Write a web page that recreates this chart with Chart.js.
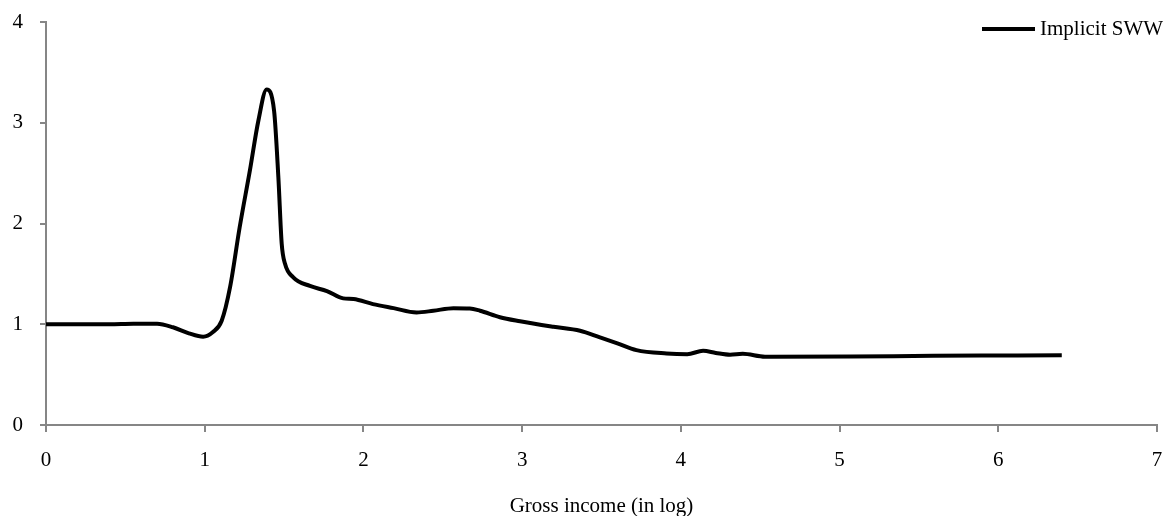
<!DOCTYPE html>
<html>
<head>
<meta charset="utf-8">
<script src="https://cdn.jsdelivr.net/npm/chart.js@4"></script>
<style>
  html, body { margin: 0; padding: 0; background: #fff; }
  #wrap { width: 1169px; height: 516px; }
</style>
</head>
<body>
<div id="wrap"><canvas id="swwChart"></canvas></div>
<script>
// values
const seriesLabel = 'Implicit SWW';
const logIncome = [0, 0.2, 0.4, 0.55, 0.7, 0.8, 0.9, 0.99, 1.05, 1.107, 1.16, 1.22, 1.285, 1.338, 1.39, 1.437, 1.464, 1.485, 1.506, 1.558, 1.663, 1.77, 1.873, 1.937, 2.06, 2.19, 2.335, 2.44, 2.567, 2.67, 2.735, 2.86, 2.987, 3.197, 3.365, 3.49, 3.6, 3.72, 3.91, 4.04, 4.14, 4.22, 4.31, 4.39, 4.53, 5.07, 5.59, 6.0, 6.4];
const sww = [1.0, 1.0, 1.0, 1.005, 1.005, 0.97, 0.91, 0.876, 0.92, 1.035, 1.37, 1.96, 2.53, 3.02, 3.33, 3.12, 2.46, 1.8, 1.6, 1.466, 1.38, 1.33, 1.257, 1.25, 1.2, 1.16, 1.117, 1.134, 1.16, 1.157, 1.134, 1.07, 1.03, 0.975, 0.935, 0.869, 0.81, 0.743, 0.71, 0.703, 0.736, 0.715, 0.697, 0.706, 0.677, 0.68, 0.687, 0.69, 0.693];
const xTicks = [0, 1, 2, 3, 4, 5, 6, 7];
const yTicks = [0, 1, 2, 3, 4];

const axisGrey = '#868686';
const fontFamily = '"Liberation Serif", "DejaVu Serif", serif';

const points = logIncome.map((x, i) => ({ x: x, y: sww[i] }));

// legend in the top right corner, drawn over the plot area
const cornerLegend = {
  id: 'cornerLegend',
  afterDraw(chart) {
    const ctx = chart.ctx;
    const ds = chart.data.datasets[0];
    ctx.save();
    ctx.strokeStyle = ds.borderColor;
    ctx.lineWidth = ds.borderWidth;
    ctx.beginPath();
    ctx.moveTo(982, 29);
    ctx.lineTo(1035, 29);
    ctx.stroke();
    ctx.fillStyle = '#000';
    ctx.font = '21px ' + fontFamily;
    ctx.textBaseline = 'middle';
    ctx.textAlign = 'left';
    ctx.fillText(ds.label, 1040, 29);
    ctx.restore();
  }
};

new Chart(document.getElementById('swwChart'), {
  type: 'line',
  data: {
    datasets: [{
      label: seriesLabel,
      data: points,
      borderColor: '#000',
      borderWidth: 4,
      pointRadius: 0,
      fill: false,
      cubicInterpolationMode: 'monotone'
    }]
  },
  options: {
    responsive: true,
    maintainAspectRatio: false,
    animation: false,
    layout: { padding: { top: 22, right: 12, left: 0, bottom: 0 } },
    plugins: {
      legend: { display: false },
      tooltip: { enabled: false }
    },
    scales: {
      x: {
        type: 'linear',
        min: 0,
        max: 7,
        afterBuildTicks: axis => { axis.ticks = xTicks.map(v => ({ value: v })); },
        afterFit: axis => {
          axis.height = 91;
          axis.paddingLeft = 0;
          axis.paddingRight = 0;
        },
        border: { color: axisGrey, width: 2 },
        grid: { drawOnChartArea: false, drawTicks: true, tickLength: 7, color: axisGrey, lineWidth: 2 },
        ticks: { color: '#000', padding: 16, font: { family: fontFamily, size: 21 } },
        title: {
          display: true,
          text: 'Gross income (in log)',
          color: '#000',
          font: { family: fontFamily, size: 21, lineHeight: 0.9 },
          padding: { top: 8, bottom: 0 }
        }
      },
      y: {
        min: 0,
        max: 4,
        afterBuildTicks: axis => { axis.ticks = yTicks.map(v => ({ value: v })); },
        afterFit: axis => {
          axis.width = 46;
          axis.paddingTop = 0;
          axis.paddingBottom = 0;
        },
        border: { color: axisGrey, width: 2 },
        grid: { drawOnChartArea: false, drawTicks: true, tickLength: 6, color: axisGrey, lineWidth: 2 },
        ticks: { color: '#000', padding: 17, font: { family: fontFamily, size: 21 } }
      }
    }
  },
  plugins: [cornerLegend]
});
</script>
</body>
</html>
